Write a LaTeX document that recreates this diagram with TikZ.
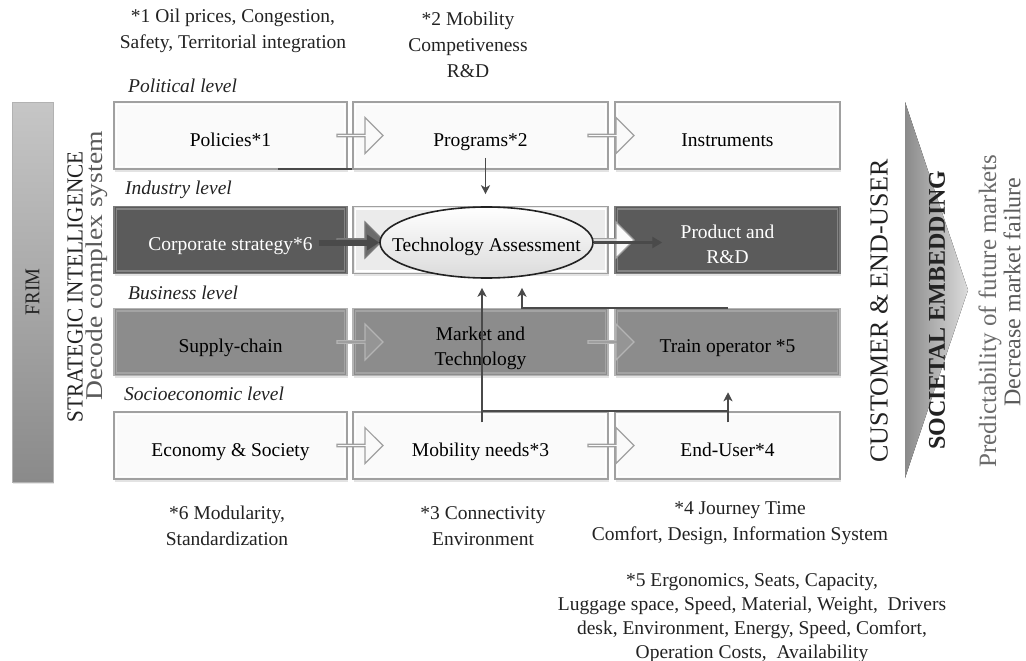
\documentclass[tikz,border=0pt]{standalone}
\usepackage{fontspec}
\setmainfont{Liberation Serif}
\usetikzlibrary{shapes.geometric,shapes.arrows,arrows.meta,calc,shadows}

\definecolor{paleface}{HTML}{FAFAFA}
\definecolor{paleedge}{HTML}{A0A0A0}
\definecolor{darkface}{HTML}{5B5B5B}
\definecolor{darkedge}{HTML}{7C7C7C}
\definecolor{midface}{HTML}{8C8C8C}
\definecolor{midedge}{HTML}{B4B4B4}
\definecolor{taface}{HTML}{EBEBEB}
\definecolor{linkgray}{HTML}{4A4A4A}
\definecolor{inkgray}{HTML}{222222}
\definecolor{softink}{HTML}{5A5A5A}
\definecolor{bartop}{HTML}{C6C6C6}
\definecolor{barbottom}{HTML}{8A8A8A}
\definecolor{chevleft}{HTML}{8A8A8A}
\definecolor{chevtip}{HTML}{DCDCDC}

\newcommand\bodysize{\fontsize{19.5}{25}\selectfont}
\newcommand\notesize{\fontsize{19.5}{26}\selectfont}
% box caption, set a little below the middle of its box
\newcommand\stagetext[1]{\raisebox{-5.5pt}[\height][\depth]{\begin{tabular}{@{}c@{}}#1\end{tabular}}}

\begin{document}
\begin{tikzpicture}[x=1pt,y=-1pt,
  stage/.style={rectangle, minimum height=67, inner sep=0pt,
    font=\bodysize, line width=1.5pt,
    drop shadow={shadow xshift=1pt, shadow yshift=-2.5pt, opacity=0.22}},
  bevel/.style={path picture={\draw[#1, line width=1.6pt]
      ([shift={(2.6,2.6)}]path picture bounding box.north west) rectangle
      ([shift={(-2.6,-2.6)}]path picture bounding box.south east);}},
  pale/.style={stage, fill=paleface, draw=paleedge, bevel=white},
  dark/.style={stage, fill=darkface, draw=darkedge, bevel=darkface!75!white, text=white},
  mid/.style={stage, fill=midface, draw=midedge, bevel=midface!80!white},
  flow/.style={single arrow, single arrow head extend=8, minimum height=46,
    minimum width=36, inner sep=0pt, anchor=tip, line width=1.2pt},
  paleflow/.style={flow, fill=paleface, draw=paleedge},
  darkflow/.style={flow, fill=darkface!90!white, draw=darkedge},
  midflow/.style={flow, fill=midface!92!white, draw=midedge},
  link/.style={draw=linkgray, line width=1.8pt, -{Stealth[length=9pt,width=9pt,inset=2.5pt]}},
  plainlink/.style={draw=linkgray, line width=1.8pt},
  heavylink/.style={draw=linkgray, -{Triangle[length=12pt,width=15pt]}},
  note/.style={align=center, font=\notesize, inner sep=0pt, text=inkgray},
  level/.style={anchor=west, font=\bodysize\itshape, inner sep=0pt, text=inkgray},
  sidetext/.style={rotate=90, inner sep=0pt, anchor=center}
]
\useasboundingbox (0,0) rectangle (1026,661);

% side bar and chevron
\node[rectangle, minimum width=41, minimum height=380, inner sep=0pt,
      top color=bartop, bottom color=barbottom, draw=gray!60, line width=0.6pt,
      drop shadow={shadow xshift=1pt, shadow yshift=-2pt, opacity=0.2}] (frim) at (32.5,292) {};
\fill[left color=chevleft, right color=chevtip] (905,102) -- (968,290) -- (905,478) -- cycle;

% stage boxes: three columns, four levels
\node[pale, minimum width=233] (pol)  at (230.5,135.5) {\stagetext{Policies*1}};
\node[pale, minimum width=255] (prog) at (480.5,135.5) {\stagetext{Programs*2}};
\node[pale, minimum width=225] (inst) at (727.5,135.5) {\stagetext{Instruments}};

\node[dark, minimum width=233] (corp) at (230.5,240) {\stagetext{Corporate strategy*6}};
\node[stage, fill=taface, draw=paleedge, bevel=white, minimum width=255] (tabox) at (480.5,240) {};
\node[dark, minimum width=225] (prod) at (727.5,240) {\stagetext{Product and\\R\&D}};

\node[mid, minimum width=233] (supply) at (230.5,342) {\stagetext{Supply-chain}};
\node[mid, minimum width=255] (market) at (480.5,342) {\stagetext{Market and\\Technology}};
\node[mid, minimum width=225] (train)  at (727.5,342) {\stagetext{Train operator *5}};

\node[pale, minimum width=233] (econ) at (230.5,445.5) {\stagetext{Economy \& Society}};
\node[pale, minimum width=255] (mob)  at (480.5,445.5) {\stagetext{Mobility needs*3}};
\node[pale, minimum width=225] (user) at (727.5,445.5) {\stagetext{End-User*4}};

% line along the foot of Policies
\coordinate (polfoot) at ($(pol.south)+(47.5,-1)$);
\draw[plainlink] (polfoot) -- (polfoot -| prog.west);

% process arrows between the columns
\node[paleflow] at ($(pol.east)+(36,0)$) {};
\node[paleflow] at ($(prog.east)+(26,0)$) {};
\node[darkflow] at ($(corp.east)+(36,0)$) {};
\node[paleflow] at ($(tabox.east)+(26,0)$) {};
\node[midflow]  at ($(supply.east)+(36,0)$) {};
\node[midflow]  at ($(market.east)+(26,0)$) {};
\node[paleflow] at ($(econ.east)+(36,0)$) {};
\node[paleflow] at ($(mob.east)+(26,0)$) {};

% technology assessment
\node[ellipse, draw=inkgray, line width=1.6pt, top color=white, bottom color=taface!85!gray,
      minimum width=213, minimum height=71, inner sep=0pt] (ta) at (486.5,242.5) {};
\node[font=\bodysize, inner sep=0pt] (tatext) at ($(ta.center)+(0,4)$) {Technology Assessment};

% flows through the industry level
\draw[heavylink, line width=6pt] ($(corp.east)+(-29,2.5)$) -- (ta.west);
\coordinate (prodin) at ($(prod.west)+(48,2.5)$);
\draw[heavylink, line width=3.5pt, -{Triangle[length=10pt,width=11pt]}] (ta.east) -- (prodin);

% links between levels
\coordinate (progdown) at ($(prog.south)+(5,-12)$);
\draw[link, shorten >=12pt] (progdown) -- (progdown |- ta.north);

\coordinate (mobup) at ($(mob.north)+(1.5,11)$);
\draw[link, shorten >=9pt] (mobup) -- (mobup |- ta.south);
\coordinate (userup) at ($(user.north)+(0.5,11)$);
\draw[plainlink] (mobup |- mob.north) -- (userup |- mob.north);
\draw[link, shorten >=16pt] (userup) -- (userup |- train.south);

\coordinate (trainjoin) at (userup |- train.north);
\draw[link, shorten >=9pt] (trainjoin) -| ($(ta.south)+(35.5,0)$);

% level captions
\node[level] (lpol) at (128,86)  {Political level};
\node[level] (lind) at (125,190) {Industry level};
\node[level] (lbus) at (128,293) {Business level};
\node[level] (lsoc) at (124,394) {Socioeconomic level};

% footnotes
\node[note] (n1) at (233,31) {*1 Oil prices, Congestion,\\Safety, Territorial integration};
\node[note] (n2) at (468,45) {*2 Mobility\\Competiveness\\R\&D};
\node[note] (n6) at (227,526) {*6 Modularity,\\Standardization};
\node[note] (n3) at (483,526) {*3 Connectivity\\Environment};
\node[note] (n4) at (740,523) {*4 Journey Time\\Comfort, Design, Information System};
\node[note, font=\fontsize{19.5}{24}\selectfont] (n5) at (752,618)
  {*5 Ergonomics, Seats, Capacity,\\Luggage space, Speed, Material, Weight,\ \ Drivers\\desk, Environment, Energy, Speed, Comfort,\\Operation Costs,\ \ Availability};

% vertical captions
\node[sidetext, font=\fontsize{21}{21}\selectfont, text=inkgray] (frimtxt) at (frim.center) {\scalebox{0.9}[1]{FRIM}};
\node[sidetext, font=\fontsize{23}{23}\selectfont, text=inkgray] (strat) at (75,287) {\scalebox{0.92}[1]{STRATEGIC INTELLIGENCE}};
\node[sidetext, font=\fontsize{24}{24}\selectfont, text=softink] (decode) at (97,266) {\scalebox{1.15}[1]{Decode complex system}};
\node[sidetext, font=\fontsize{26}{26}\selectfont, text=inkgray] (cust) at (879,311) {CUSTOMER \& END-USER};
\node[sidetext, font=\fontsize{24}{24}\selectfont\bfseries, text=inkgray] (embed) at (937,310) {SOCIETAL EMBEDDING};
\node[sidetext, font=\fontsize{25}{25}\selectfont, text=softink!90!white] (predict) at (990,311) {Predictability of future markets};
\node[sidetext, font=\fontsize{24}{24}\selectfont, text=softink] (decrease) at (1012,292) {Decrease market failure};
\end{tikzpicture}
\end{document}
